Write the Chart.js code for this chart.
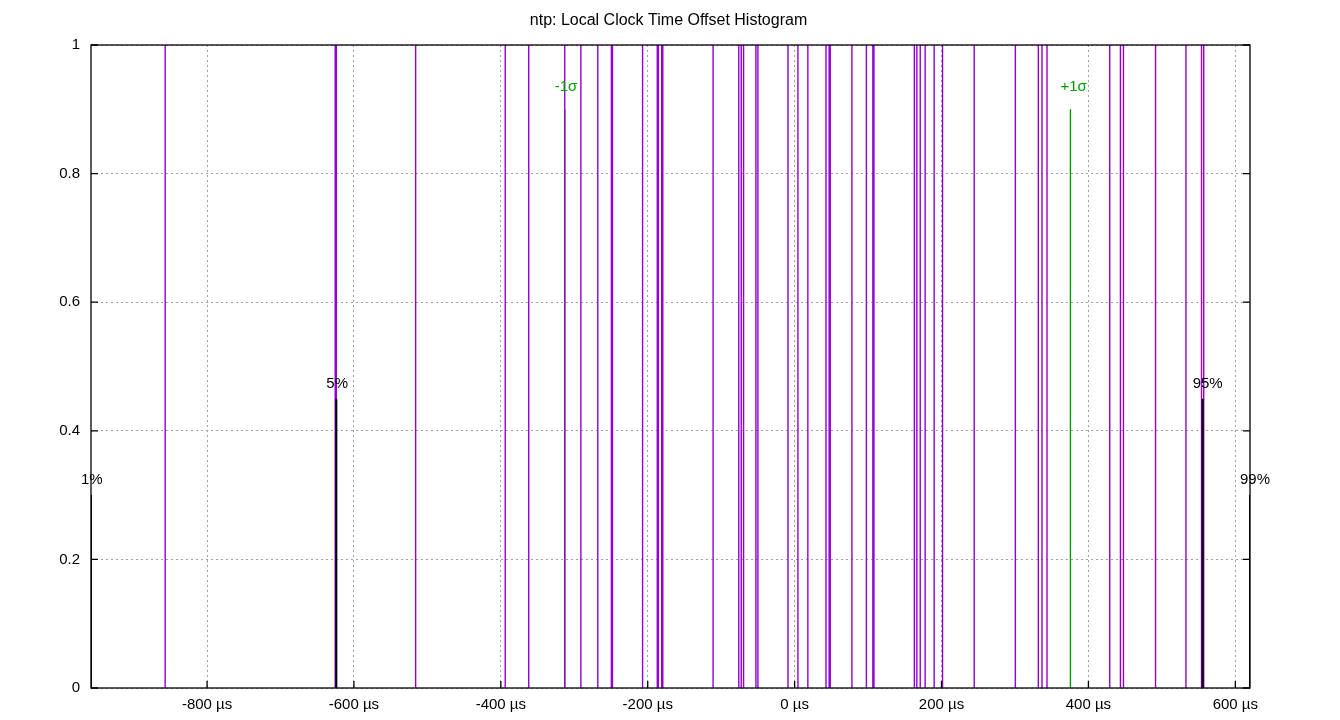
<!DOCTYPE html>
<html>
<head>
<meta charset="utf-8">
<title>ntp: Local Clock Time Offset Histogram</title>
<script src="https://cdn.jsdelivr.net/npm/chart.js@4.4.1/dist/chart.umd.min.js"></script>
<style>
  html, body { margin: 0; padding: 0; background: #fff; }
  #wrap { width: 1340px; height: 720px; }
</style>
</head>
<body>
<div id="wrap"><canvas id="histChart" width="1340" height="720"></canvas></div>
<script>
// Offsets (µs) of each histogram bin
const offsets = [
  -857, -625.5, -624, -516, -394, -362, -313, -291, -268, -249.5, -248, -207,
  -187, -185.5, -181, -179.5, -111, -76, -72.7, -69.5, -52.7, -50, -9, 4.5,
  18, 42.7, 47, 48.5, 78, 97.7, 106.5, 108, 163, 166.4, 171, 177.7, 190, 201.4,
  244.5, 300.5, 331.8, 336.8, 343.6, 429, 443.6, 447.7, 491.4, 532.8, 554, 557
];
// Height of each bin (all reach the top of the plot)
const counts = [
  1, 1, 1, 1, 1, 1, 1, 1, 1, 1, 1, 1,
  1, 1, 1, 1, 1, 1, 1, 1, 1, 1, 1, 1,
  1, 1, 1, 1, 1, 1, 1, 1, 1, 1, 1, 1, 1, 1,
  1, 1, 1, 1, 1, 1, 1, 1, 1, 1, 1, 1
];

// Percentile markers
const pctLabels = ['1%', '5%', '95%', '99%'];
const pctValues = [-958, -624, 555.5, 620];
const pctHeights = [0.3, 0.45, 0.45, 0.3];

// Standard deviation markers
const sigmaLabels = ['-1σ', '+1σ'];
const sigmaValues = [-313, 375.5];
const sigmaHeights = [0.9, 0.9];

// Axes
const xTicks = [-800, -600, -400, -200, 0, 200, 400, 600];
const yTicks = [0, 0.2, 0.4, 0.6, 0.8, 1];
const xMin = -958;
const xMax = 620;

const FONT = 'Liberation Sans, Arial, sans-serif';

// Turns values/heights into vertical impulse segments, separated by gaps
function impulses(values, heights) {
    const pts = [];
    values.forEach((v, i) => {
        pts.push({ x: v, y: 0 });
        pts.push({ x: v, y: heights[i] });
        pts.push({ x: v, y: null });
    });
    return pts;
}

// Title, frame, inward ticks and marker labels (gnuplot style)
const decorPlugin = {
    id: 'decor',
    afterDraw(chart) {
        const ctx = chart.ctx;
        const area = chart.chartArea;
        const xs = chart.scales.x;
        const ys = chart.scales.y;
        ctx.save();

        // title
        ctx.fillStyle = '#000';
        ctx.font = '16px ' + FONT;
        ctx.textAlign = 'center';
        ctx.textBaseline = 'middle';
        ctx.fillText('ntp: Local Clock Time Offset Histogram', (area.left + area.right) / 2 - 2, 21);

        // frame
        ctx.strokeStyle = '#000';
        ctx.lineWidth = 1.3;
        ctx.strokeRect(area.left, area.top, area.right - area.left, area.bottom - area.top);

        // inward ticks
        ctx.beginPath();
        xTicks.forEach(v => {
            const px = xs.getPixelForValue(v);
            ctx.moveTo(px, area.bottom);
            ctx.lineTo(px, area.bottom - 7);
        });
        yTicks.forEach(v => {
            const py = ys.getPixelForValue(v);
            ctx.moveTo(area.left, py);
            ctx.lineTo(area.left + 7, py);
            ctx.moveTo(area.right, py);
            ctx.lineTo(area.right - 7, py);
        });
        ctx.stroke();

        // marker labels
        ctx.font = '15px ' + FONT;
        ctx.textAlign = 'left';
        ctx.textBaseline = 'alphabetic';
        ctx.fillStyle = '#000';
        pctLabels.forEach((t, i) => {
            ctx.fillText(t, xs.getPixelForValue(pctValues[i]) - 10, ys.getPixelForValue(pctHeights[i]) - 11);
        });
        ctx.fillStyle = '#00a000';
        sigmaLabels.forEach((t, i) => {
            ctx.fillText(t, xs.getPixelForValue(sigmaValues[i]) - 10, ys.getPixelForValue(sigmaHeights[i]) - 18);
        });
        ctx.restore();
    }
};

const ctx = document.getElementById('histChart').getContext('2d');
const histChart = new Chart(ctx, {
    type: 'scatter',
    data: {
        datasets: [
            {
                // percentiles on top
                data: impulses(pctValues, pctHeights),
                showLine: true,
                borderColor: '#000',
                borderWidth: 2,
                pointRadius: 0,
                spanGaps: false,
                order: 0
            },
            {
                data: impulses(offsets, counts),
                showLine: true,
                borderColor: '#9400d3',
                borderWidth: 1.4,
                pointRadius: 0,
                spanGaps: false,
                order: 1
            },
            {
                data: impulses(sigmaValues, sigmaHeights),
                showLine: true,
                borderColor: '#00a000',
                borderWidth: 1.4,
                pointRadius: 0,
                spanGaps: false,
                order: 2
            }
        ]
    },
    options: {
        responsive: false,
        animation: false,
        devicePixelRatio: 1,
        layout: { padding: { top: 45, right: 90, left: 0, bottom: 0 } },
        plugins: {
            legend: { display: false },
            tooltip: { enabled: false },
            title: { display: false }
        },
        scales: {
            x: {
                type: 'linear',
                min: xMin,
                max: xMax,
                afterBuildTicks: s => { s.ticks = xTicks.map(v => ({ value: v })); },
                afterFit: s => { s.height = 32; },
                ticks: {
                    color: '#000',
                    font: { family: FONT, size: 15 },
                    padding: 8,
                    maxRotation: 0,
                    callback: v => v + ' µs'
                },
                grid: { color: '#a0a0a0', drawTicks: false, lineWidth: 1 },
                border: { display: false, dash: [2, 3] }
            },
            y: {
                min: 0,
                max: 1,
                afterBuildTicks: s => { s.ticks = yTicks.map(v => ({ value: v })); },
                afterFit: s => { s.width = 91; },
                ticks: {
                    color: '#000',
                    font: { family: FONT, size: 15 },
                    padding: 11,
                    callback: v => String(v)
                },
                grid: { color: '#a0a0a0', drawTicks: false, lineWidth: 1 },
                border: { display: false, dash: [2, 3] }
            }
        }
    },
    plugins: [decorPlugin]
});
</script>
</body>
</html>
